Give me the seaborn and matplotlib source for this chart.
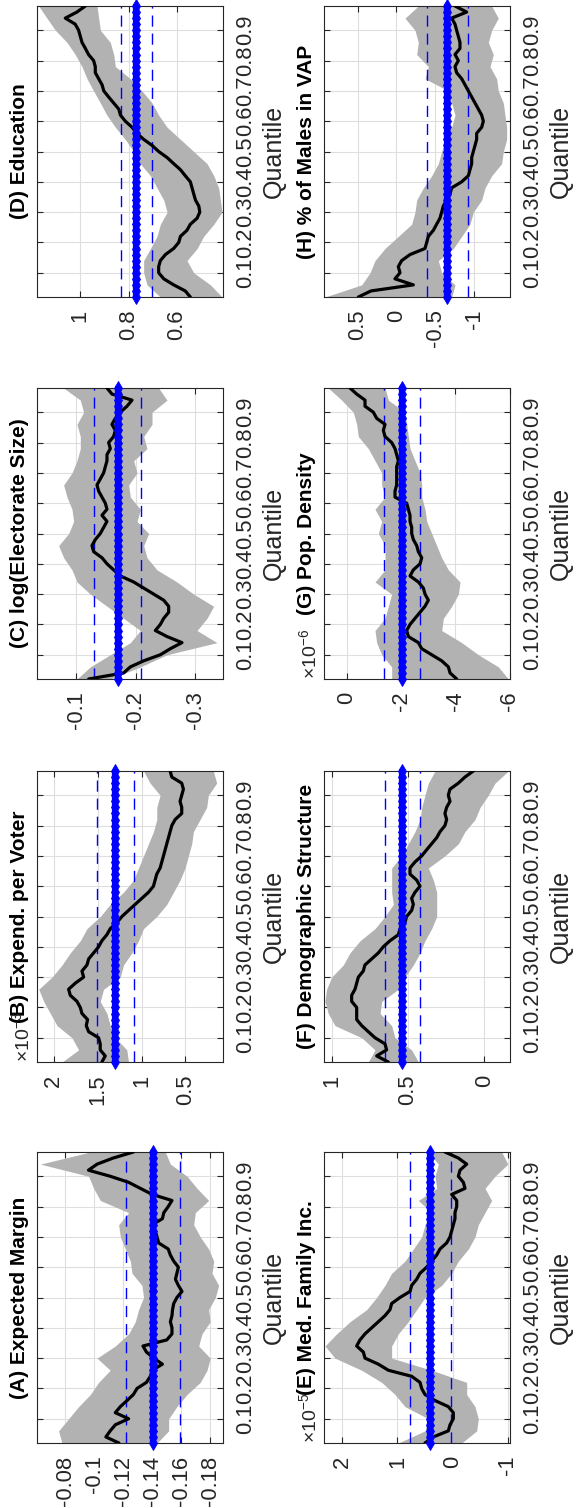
import numpy as np
import matplotlib
matplotlib.use("Agg")
import matplotlib.pyplot as plt
import seaborn as sns

# Quantile grids: one for the quantile-regression estimates, one for the band edges
q_line = [0.02, 0.04, 0.06, 0.08, 0.10, 0.12, 0.14, 0.16, 0.18, 0.20,
          0.22, 0.24, 0.26, 0.28, 0.30, 0.32, 0.34, 0.36, 0.38, 0.40,
          0.42, 0.44, 0.46, 0.48, 0.50, 0.52, 0.54, 0.56, 0.58, 0.60,
          0.62, 0.64, 0.66, 0.68, 0.70, 0.72, 0.74, 0.76, 0.78, 0.80,
          0.82, 0.84, 0.86, 0.88, 0.90, 0.92, 0.94, 0.96, 0.98]
q_band = [0.02, 0.06, 0.10, 0.14, 0.18, 0.22, 0.26, 0.30, 0.34, 0.38,
          0.42, 0.46, 0.50, 0.54, 0.58, 0.62, 0.66, 0.70, 0.74, 0.78,
          0.82, 0.86, 0.90, 0.94, 0.98]
q_ticks = [0.1, 0.2, 0.3, 0.4, 0.5, 0.6, 0.7, 0.8, 0.9]
q_ticklabels = ["0.1", "0.2", "0.3", "0.4", "0.5", "0.6", "0.7", "0.8", "0.9"]

titles = ["(A) Expected Margin", "(B) Expend. per Voter", "(C) log(Electorate Size)",
          "(D) Education", "(E) Med. Family Inc.", "(F) Demographic Structure",
          "(G) Pop. Density", "(H) % of Males in VAP"]
exponents = [None, "\u00d710$^{-3}$", None, None, "\u00d710$^{-5}$", None,
             "\u00d710$^{-6}$", None]

# (A) Expected Margin
a_coef = [-0.117, -0.108, -0.111, -0.1145, -0.1237, -0.1145, -0.118, -0.1226, -0.127, -0.1295,
          -0.136, -0.1387, -0.140, -0.147, -0.141, -0.136, -0.1336, -0.150, -0.1536, -0.1536,
          -0.1525, -0.1536, -0.154, -0.1548, -0.157, -0.1605, -0.158, -0.156, -0.157, -0.158,
          -0.1548, -0.1525, -0.151, -0.1444, -0.1433, -0.142, -0.140, -0.147, -0.148, -0.151,
          -0.1536, -0.140, -0.1318, -0.1237, -0.111, -0.096, -0.102, -0.113, -0.127]
a_hi = [-0.0777, -0.0754, -0.0823, -0.0892, -0.0973, -0.103, -0.111, -0.1019, -0.1145, -0.1237,
        -0.1283, -0.1306, -0.134, -0.1329, -0.126, -0.1249, -0.1214, -0.118, -0.1168, -0.1237,
        -0.1042, -0.0996, -0.0961, -0.0628, -0.0973]
a_lo = [-0.1433, -0.1513, -0.1513, -0.157, -0.164, -0.1731, -0.1778, -0.180, -0.172, -0.1743,
        -0.180, -0.1789, -0.1835, -0.1858, -0.1812, -0.1824, -0.1789, -0.1731, -0.1686, -0.1697,
        -0.1789, -0.1709, -0.164, -0.1525, -0.149]

# (B) Expend. per Voter (x 1e-3)
b_coef = [1.451, 1.413, 1.470, 1.470, 1.489, 1.602, 1.629, 1.614, 1.678, 1.697,
          1.735, 1.811, 1.830, 1.754, 1.659, 1.678, 1.621, 1.602, 1.545, 1.489,
          1.451, 1.394, 1.356, 1.280, 1.223, 1.148, 1.072, 0.996, 0.920, 0.864,
          0.845, 0.826, 0.788, 0.769, 0.750, 0.731, 0.712, 0.693, 0.674, 0.655,
          0.617, 0.542, 0.542, 0.561, 0.542, 0.523, 0.542, 0.655, 0.674]
b_hi = [1.905, 1.716, 1.792, 1.962, 2.038, 2.114, 2.170, 2.019, 1.905, 1.811,
        1.697, 1.621, 1.470, 1.356, 1.205, 1.091, 1.034, 0.977, 0.920, 0.864,
        0.826, 0.826, 0.788, 0.902, 0.977]
b_lo = [1.148, 1.167, 1.299, 1.356, 1.394, 1.470, 1.432, 1.242, 1.205, 1.110,
        1.034, 0.977, 0.826, 0.712, 0.636, 0.561, 0.504, 0.466, 0.428, 0.409,
        0.333, 0.258, 0.239, 0.144, 0.182]

# (C) log(Electorate Size)
c_coef = [-0.1207, -0.1796, -0.1908, -0.2132, -0.2412, -0.2580, -0.2776, -0.2524, -0.2328, -0.2412,
          -0.2468, -0.2552, -0.2552, -0.2468, -0.2300, -0.2132, -0.1964, -0.1739, -0.1627, -0.1515,
          -0.1431, -0.1291, -0.1263, -0.1319, -0.1403, -0.1459, -0.1515, -0.1431, -0.1515, -0.1487,
          -0.1431, -0.1375, -0.1347, -0.1403, -0.1459, -0.1487, -0.1515, -0.1515, -0.1571, -0.1543,
          -0.1627, -0.1655, -0.1599, -0.1655, -0.1739, -0.1852, -0.1936, -0.1599, -0.1515]
c_hi = [-0.1011, -0.1235, -0.1571, -0.1908, -0.2076, -0.1796, -0.1515, -0.1235, -0.1011, -0.0927,
        -0.0787, -0.0703, -0.0871, -0.0955, -0.0927, -0.0843, -0.0787, -0.0927, -0.1011, -0.1067,
        -0.1067, -0.1011, -0.1123, -0.1067, -0.0787]
c_lo = [-0.1571, -0.2076, -0.2524, -0.3364, -0.3028, -0.3196, -0.3308, -0.2972, -0.2692, -0.2356,
        -0.2188, -0.2132, -0.2216, -0.2020, -0.2076, -0.1908, -0.1880, -0.2020, -0.1964, -0.2188,
        -0.2132, -0.2272, -0.2272, -0.2524, -0.2384]

# (D) Education
d_coef = [0.545, 0.566, 0.614, 0.655, 0.676, 0.676, 0.669, 0.648, 0.614, 0.593,
          0.586, 0.559, 0.545, 0.517, 0.506, 0.510, 0.524, 0.531, 0.538, 0.545,
          0.566, 0.586, 0.614, 0.641, 0.676, 0.703, 0.738, 0.766, 0.786, 0.814,
          0.834, 0.841, 0.862, 0.883, 0.903, 0.910, 0.924, 0.938, 0.938, 0.945,
          0.966, 0.979, 0.993, 1.000, 1.007, 1.021, 1.062, 1.014, 0.979]
d_hi = [0.669, 0.724, 0.738, 0.738, 0.710, 0.683, 0.669, 0.641, 0.655, 0.683,
        0.710, 0.752, 0.779, 0.814, 0.855, 0.890, 0.917, 0.945, 0.972, 0.993,
        1.021, 1.055, 1.103, 1.138, 1.172]
d_lo = [0.414, 0.462, 0.531, 0.559, 0.517, 0.490, 0.448, 0.414, 0.421, 0.428,
        0.448, 0.476, 0.531, 0.586, 0.641, 0.676, 0.703, 0.745, 0.793, 0.855,
        0.862, 0.876, 0.917, 0.924, 0.931]

# (E) Med. Family Inc.
e_coef = [0.502, 0.350, 0.079, 0.048, -0.012, -0.012, 0.079, 0.320, 0.502, 0.562,
          0.592, 0.743, 1.166, 1.347, 1.589, 1.619, 1.740, 1.680, 1.589, 1.468,
          1.347, 1.227, 1.136, 1.106, 0.955, 0.773, 0.743, 0.653, 0.592, 0.471,
          0.381, 0.290, 0.230, 0.109, 0.048, 0.018, -0.012, -0.042, -0.042, -0.073,
          -0.073, 0.018, -0.224, -0.193, -0.103, -0.133, -0.254, -0.103, 0.139]
e_hi = [0.985, 0.502, 0.441, 0.864, 1.045, 1.287, 1.650, 2.133, 2.314, 2.103,
        1.861, 1.559, 1.378, 1.227, 1.106, 0.864, 0.713, 0.562, 0.502, 0.381,
        0.622, 0.290, 0.320, 0.260, 0.441]
e_lo = [-0.163, -0.435, -0.465, -0.405, -0.254, -0.254, 0.381, 1.106, 1.106, 0.985,
        0.804, 0.653, 0.502, 0.199, 0.018, -0.103, -0.284, -0.405, -0.465, -0.586,
        -0.707, -0.586, -0.767, -1.000, -0.888]

# (F) Demographic Structure
f_coef = [0.629, 0.705, 0.640, 0.651, 0.716, 0.760, 0.803, 0.836, 0.836, 0.836,
          0.869, 0.869, 0.847, 0.836, 0.825, 0.793, 0.782, 0.738, 0.694, 0.662,
          0.618, 0.563, 0.552, 0.520, 0.509, 0.476, 0.465, 0.476, 0.454, 0.421,
          0.443, 0.487, 0.487, 0.454, 0.410, 0.378, 0.345, 0.312, 0.290, 0.258,
          0.247, 0.258, 0.247, 0.225, 0.236, 0.225, 0.170, 0.127, 0.072]
f_hi = [0.760, 0.716, 0.803, 0.978, 1.022, 1.044, 1.033, 1.000, 0.924, 0.880,
        0.814, 0.716, 0.651, 0.596, 0.607, 0.607, 0.607, 0.541, 0.498, 0.454,
        0.421, 0.410, 0.389, 0.367, 0.323]
f_lo = [0.432, 0.476, 0.585, 0.607, 0.683, 0.672, 0.563, 0.520, 0.465, 0.421,
        0.389, 0.345, 0.312, 0.312, 0.312, 0.334, 0.367, 0.258, 0.170, 0.127,
        0.061, 0.028, -0.026, -0.070, -0.157]

# (G) Pop. Density (x 1e-6)
g_coef = [-4.049, -3.804, -3.742, -3.497, -3.129, -2.761, -2.638, -2.270, -2.209, -2.331,
          -2.515, -2.699, -2.883, -3.006, -2.883, -2.822, -2.638, -2.331, -2.454, -2.699,
          -2.761, -2.638, -2.577, -2.454, -2.393, -2.393, -2.331, -2.331, -2.270, -2.209,
          -1.779, -1.779, -1.840, -1.840, -1.840, -1.840, -1.902, -1.840, -1.779, -1.656,
          -1.411, -1.350, -1.411, -1.104, -0.982, -0.675, -0.675, -0.368, -0.123]
g_hi = [-1.656, -1.656, -1.288, -1.104, -1.043, -1.411, -1.534, -1.656, -1.043, -1.411,
        -1.411, -1.411, -1.166, -1.288, -1.043, -1.411, -1.288, -1.288, -1.043, -0.798,
        -0.429, -0.368, -0.245, 0.184, 0.675]
g_lo = [-5.951, -5.583, -4.847, -4.233, -3.497, -3.558, -3.865, -4.110, -4.172, -3.742,
        -3.497, -3.313, -3.129, -2.945, -2.883, -2.761, -2.761, -2.699, -2.515, -2.331,
        -2.270, -2.209, -2.147, -1.534, -1.411]

# (H) % of Males in VAP
h_coef = [0.491, 0.328, -0.218, 0.019, -0.046, -0.024, -0.067, -0.175, -0.368, -0.390,
          -0.411, -0.476, -0.518, -0.561, -0.583, -0.604, -0.647, -0.690, -0.712, -0.841,
          -0.927, -0.948, -0.970, -0.970, -0.991, -1.013, -1.034, -1.034, -1.099, -1.120,
          -1.099, -1.056, -1.013, -0.970, -0.927, -0.884, -0.841, -0.776, -0.755, -0.798,
          -0.755, -0.819, -0.819, -0.798, -0.776, -0.755, -0.712, -0.905, -0.755]
h_hi = [0.921, 0.448, 0.341, 0.277, 0.148, -0.024, -0.196, -0.239, -0.261, -0.347,
        -0.454, -0.540, -0.583, -0.626, -0.712, -0.755, -0.712, -0.669, -0.368, -0.411,
        -0.261, -0.282, -0.239, -0.110, -0.282]
h_lo = [-0.712, -0.755, -0.583, -0.540, -0.733, -0.841, -0.948, -0.991, -1.099, -1.142,
        -1.228, -1.356, -1.378, -1.421, -1.421, -1.399, -1.378, -1.313, -1.292, -1.206,
        -1.249, -1.185, -1.228, -1.313, -1.228]

# OLS estimate and its confidence bounds for each covariate
ols_est = [-0.1405, 1.30, -0.1695, 0.768, 0.411, 0.537, -2.049, -0.647]
ols_lo = [-0.159, 1.091, -0.209, 0.703, 0.036, 0.421, -2.699, -0.918]
ols_hi = [-0.122, 1.508, -0.130, 0.832, 0.773, 0.651, -1.387, -0.390]

# value-axis ranges and ticks
value_lims = [(-0.0605, -0.1888), (2.19, 0.072), (-0.0339, -0.3465), (1.179, 0.410),
              (2.332, -1.039), (1.050, -0.168), (0.834, -6.01), (0.934, -1.464)]
value_ticks = [[-0.18, -0.16, -0.14, -0.12, -0.1, -0.08], [0.5, 1, 1.5, 2],
               [-0.3, -0.2, -0.1], [0.6, 0.8, 1], [-1, 0, 1, 2], [0, 0.5, 1],
               [-6, -4, -2, 0], [-1, -0.5, 0, 0.5]]

coefs = [a_coef, b_coef, c_coef, d_coef, e_coef, f_coef, g_coef, h_coef]
his = [a_hi, b_hi, c_hi, d_hi, e_hi, f_hi, g_hi, h_hi]
los = [a_lo, b_lo, c_lo, d_lo, e_lo, f_lo, g_lo, h_lo]

sns.set_theme(style="whitegrid")
plt.rcParams["font.family"] = ["Liberation Sans", "DejaVu Sans"]
plt.rcParams["axes.unicode_minus"] = False
plt.rcParams["mathtext.fontset"] = "custom"
plt.rcParams["mathtext.rm"] = "Liberation Sans"
plt.rcParams["mathtext.it"] = "Liberation Sans"

W, H = 577, 1508
fig = plt.figure(figsize=(W / 100, H / 100), dpi=100)
fig.patch.set_facecolor("white")

col_x = [37, 324]
row_top = [1152, 771, 388, 6]   # A/E, B/F, C/G, D/H
ax_w, ax_h = 186, 291


def fmt(v):
    return "%g" % v


for i in range(8):
    col = 0 if i < 4 else 1
    row = i % 4
    left = col_x[col] / W
    bottom = (H - row_top[row] - ax_h) / H
    ax = fig.add_axes([left, bottom, ax_w / W, ax_h / H])
    ax.set_facecolor("white")

    ax.fill_betweenx(q_band, los[i], his[i], color="#b2b2b2", lw=0, zorder=1)
    sns.lineplot(x=coefs[i], y=q_line, orient="y", sort=False, color="black",
                 lw=2.3, ax=ax, zorder=3)
    for b in (ols_lo[i], ols_hi[i]):
        ax.axvline(b, color="#0000ff", lw=1.0, ls=(0, (8, 5)), zorder=2)
    ax.plot([ols_est[i]] * len(q_line), q_line, color="#0000ff", lw=4.5,
            marker="d", ms=7, mec="#0000ff", mew=0.6, clip_on=False, zorder=4)

    ax.set_xlim(*value_lims[i])
    ax.set_ylim(0.02, 0.98)
    ax.set_xticks(value_ticks[i])
    ax.set_xticklabels([fmt(v) for v in value_ticks[i]])
    ax.set_yticks(q_ticks)
    ax.set_yticklabels(q_ticklabels)
    ax.grid(True, color="#dedede", lw=0.8)
    ax.set_axisbelow(True)

    ax.tick_params(axis="x", direction="in", length=4, width=0.8, color="#262626",
                   top=True, bottom=True, labelsize=15.8, labelcolor="#262626",
                   labelrotation=90, pad=9)
    ax.tick_params(axis="y", direction="in", length=4, width=0.8, color="#262626",
                   left=True, right=True, labelleft=False, labelright=True,
                   labelsize=15.8, labelcolor="#262626", pad=9)
    for lab in ax.get_yticklabels():
        lab.set_rotation(90)
        lab.set_va("center")
        lab.set_ha("left")

    ax.yaxis.set_label_position("right")
    ax.set_ylabel("Quantile", fontsize=18, color="#262626", rotation=90, labelpad=4)
    ax.set_xlabel("")

    for sp in ax.spines.values():
        sp.set_color("#262626")
        sp.set_linewidth(0.8)

    ax.annotate(titles[i], xy=(0, 0.5), xycoords="axes fraction", xytext=(-6, 0),
                textcoords="offset points", rotation=90, ha="right", va="center",
                fontsize=15, fontweight="bold", color="black")
    if exponents[i]:
        ax.annotate(exponents[i], xy=(0, 0), xycoords="axes fraction", xytext=(-3, 0),
                    textcoords="offset points", rotation=90, ha="right", va="bottom",
                    fontsize=14, color="#262626")

fig.savefig("out.png", dpi=100, facecolor="white")
